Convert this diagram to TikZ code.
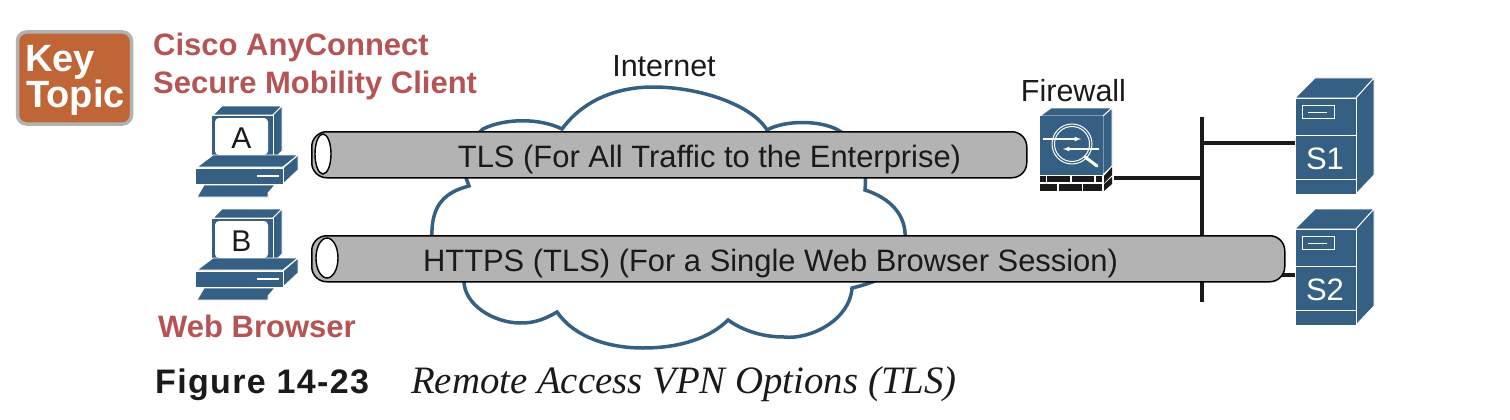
\documentclass[tikz,border=0pt]{standalone}
\usepackage{fontspec}
\usetikzlibrary{shapes.geometric}
\setmainfont{Liberation Sans}
\newfontfamily\capserif{Liberation Serif}
\newfontfamily\capnumfont[LetterSpace=4]{Liberation Sans}
\definecolor{ciscoblue}{HTML}{366083}
\definecolor{cliptext}{HTML}{B55355}
\definecolor{badge}{HTML}{C06636}
\definecolor{tubegray}{HTML}{B3B3B3}
\definecolor{inktext}{HTML}{1A1A1A}
\tikzset{
  iconface/.style={fill=ciscoblue, draw=white, line width=0.9pt, line join=round},
  tube/.style={draw=black, fill=tubegray, line width=1.5pt, rounded corners=15pt, inner sep=0pt, anchor=north west},
  tubemouth/.style={draw=black, fill=white, line width=1.4pt, ellipse, inner sep=0pt},
  tubetext/.style={anchor=base, text=inktext, font=\fontsize{30.9}{31}\selectfont, inner sep=0pt},
  plain/.style={anchor=base, text=inktext, font=\fontsize{30.5}{31}\selectfont, inner sep=0pt},
  redtext/.style={anchor=base west, text=cliptext, font=\fontsize{31}{31}\selectfont\bfseries, inner sep=0pt},
  keytext/.style={anchor=base west, text=white, font=\fontsize{38}{38}\selectfont\bfseries, inner sep=0pt},
  wire/.style={draw=inktext, line width=3.4pt},
  pics/pcicon/.style={code={
    \draw[iconface] (18,9) -- (27,0) -- (87,0) -- (78,9) -- cycle;
    \draw[iconface] (78,9) -- (87,0) -- (87,45) -- (78,54) -- cycle;
    \draw[iconface] (16,9) rectangle (78,54);
    \node[draw=none, fill=white, rounded corners=4pt, minimum width=53pt, minimum height=37pt, inner sep=0pt] (-screen) at (46.5,30.5) {};
    \node[plain, font=\fontsize{30}{30}\selectfont] (-label) at (46.5,42) {#1};
    \draw[iconface] (2,61) -- (18,49) -- (103,49) -- (88,61) -- cycle;
    \draw[iconface] (88,62) -- (103,49) -- (103,64) -- (88,78) -- cycle;
    \draw[iconface] (0,62) rectangle (88,78);
    \draw[white, line width=1.5pt] (62,70) -- (84,70);
    \draw[iconface] (9,79) -- (2,91) -- (73,91) -- (73,87) -- (80,79) -- cycle;
  }},
  pics/servericon/.style={code={
    \draw[iconface] (0,20) -- (20,0) -- (79,0) -- (61,20) -- cycle;
    \draw[iconface] (61,20) -- (79,0) -- (79,97) -- (61,116) -- cycle;
    \draw[iconface] (0,20) rectangle (61,116);
    \draw[white, line width=0.9pt] (0,57) -- (61,57) (0,101) -- (61,101);
    \draw[white, line width=0.9pt] (7,27) rectangle (39,40);
    \draw[white, line width=0.9pt] (13,34) -- (32,34);
    \node[plain, text=white, font=\fontsize{31}{31}\selectfont] (-label) at (30,91) {#1};
  }},
}
\begin{document}
\begin{tikzpicture}[x=1pt, y=-1pt]
\useasboundingbox (0,0) rectangle (1510,420);
% badge
\node[draw=black!30, fill=badge, line width=3.5pt, rounded corners=9pt, minimum width=114pt, minimum height=92pt, inner sep=0pt] (keybox) at (74.5,78) {};
\node[keytext] (keyword) at (25,72) {Key};
\node[keytext] (topicword) at (26,107) {Topic};
% cloud
\draw[ciscoblue, fill=white, line width=3.5pt] (562,129)
  .. controls (585,98) and (620,87) .. (653,87)
  .. controls (700,87) and (752,105) .. (767,130)
  .. controls (785,120) and (820,120) .. (838,130)
  .. controls (855,140) and (868,160) .. (865,190)
  .. controls (890,198) and (907,215) .. (905,240)
  .. controls (905,262) and (895,278) .. (852,288)
  .. controls (850,320) and (810,340) .. (784,337)
  .. controls (765,337) and (745,332) .. (728,320)
  .. controls (710,338) and (680,348) .. (643,348)
  .. controls (610,348) and (575,338) .. (557,312)
  .. controls (540,322) and (530,323) .. (520,323)
  .. controls (495,323) and (462,305) .. (464,278)
  .. controls (445,270) and (430,255) .. (432,230)
  .. controls (433,205) and (445,192) .. (469,186)
  -- (465,175)
  .. controls (470,150) and (475,135) .. (483,129)
  .. controls (505,118) and (540,118) .. (562,129) -- cycle;
\node[plain] (internet) at (664,77) {Internet};
% computers
\pic (pcA) at (195,106) {pcicon=A};
\pic (pcB) at (195,209) {pcicon=B};
\node[redtext] (clientA) at (153,56) {Cisco AnyConnect};
\node[redtext] (clientB) at (153,93) {Secure Mobility Client};
\node[redtext] (browser) at (158,337) {Web Browser};
% servers
\pic (srvA) at (1295,78) {servericon=S1};
\pic (srvB) at (1295,209) {servericon=S2};
% firewall
\node[plain] (fwtext) at (1073.5,101) {Firewall};
\draw[iconface] (1040,116) -- (1051,108) -- (1112,108) -- (1103,116) -- cycle;
\draw[iconface] (1103,116) -- (1112,108) -- (1112,166) -- (1103,175) -- cycle;
\node[iconface, draw=none, minimum width=63pt, minimum height=59pt, inner sep=0pt] (fwbody) at (1071.5,145.5) {};
\draw[white, line width=1pt] (fwbody.center) ++(0.5,-1.5) circle (20) circle (17.5);
\draw[white, line width=3pt, line cap=round] (1085,157) -- (1097,166);
\draw[white, line width=1.2pt, -latex] (1043,139) -- (1081,139);
\draw[white, line width=1.2pt, -latex] (1099,149) -- (1063,149);
\foreach \xa/\xb in {1040/1046,1047/1070,1072/1094,1096/1102} \fill[black!90] (\xa,176) rectangle (\xb,182);
\foreach \xa/\xb in {1040/1057,1059/1082,1083/1102} \fill[black!90] (\xa,184) rectangle (\xb,191);
\fill[black!90] (1104,176) -- (1112,167) -- (1112,175) -- (1104,183) -- cycle;
\fill[black!90] (1104,184) -- (1112,177) -- (1112,184) -- (1104,191) -- cycle;
% wires
\coordinate (bustop) at (1202,117);
\coordinate (busend) at (1202,302);
\coordinate (fwport) at (1114,178);
\coordinate (fwtap) at (1202,178);
\coordinate (s1tap) at (1202,143);
\coordinate (s1port) at (1295,143);
\coordinate (s2tap) at (1270,275);
\coordinate (s2port) at (1295,275);
\draw[wire] (bustop) -- (busend);
\draw[wire] (fwport) -- (fwtap);
\draw[wire] (s1tap) -- (s1port);
\draw[wire] (s2tap) -- (s2port);
% tubes
\node[tube, minimum width=715pt, minimum height=46pt] (tubeA) at (311,131) {};
\node[tubemouth, minimum width=16pt, minimum height=40pt] (mouthA) at (323,154) {};
\node[tube, minimum width=973pt, minimum height=46pt] (tubeB) at (311,235) {};
\node[tubemouth, minimum width=22pt, minimum height=40pt] (mouthB) at (327,258) {};
\node[tubetext] (tlstext) at (709.5,167) {TLS (For All Traffic to the Enterprise)};
\node[tubetext] (httpstext) at (770.5,271) {HTTPS (TLS) (For a Single Web Browser Session)};
% caption
\node[anchor=base west, text=inktext, font=\capnumfont\fontsize{34}{34}\selectfont\bfseries, inner sep=0pt] (capnum) at (155,393) {Figure 14-23};
\node[anchor=base west, text=inktext, font=\capserif\fontsize{38.8}{39}\selectfont\itshape, inner sep=0pt] (captext) at (411,393) {Remote Access VPN Options (TLS)};
\end{tikzpicture}
\end{document}
